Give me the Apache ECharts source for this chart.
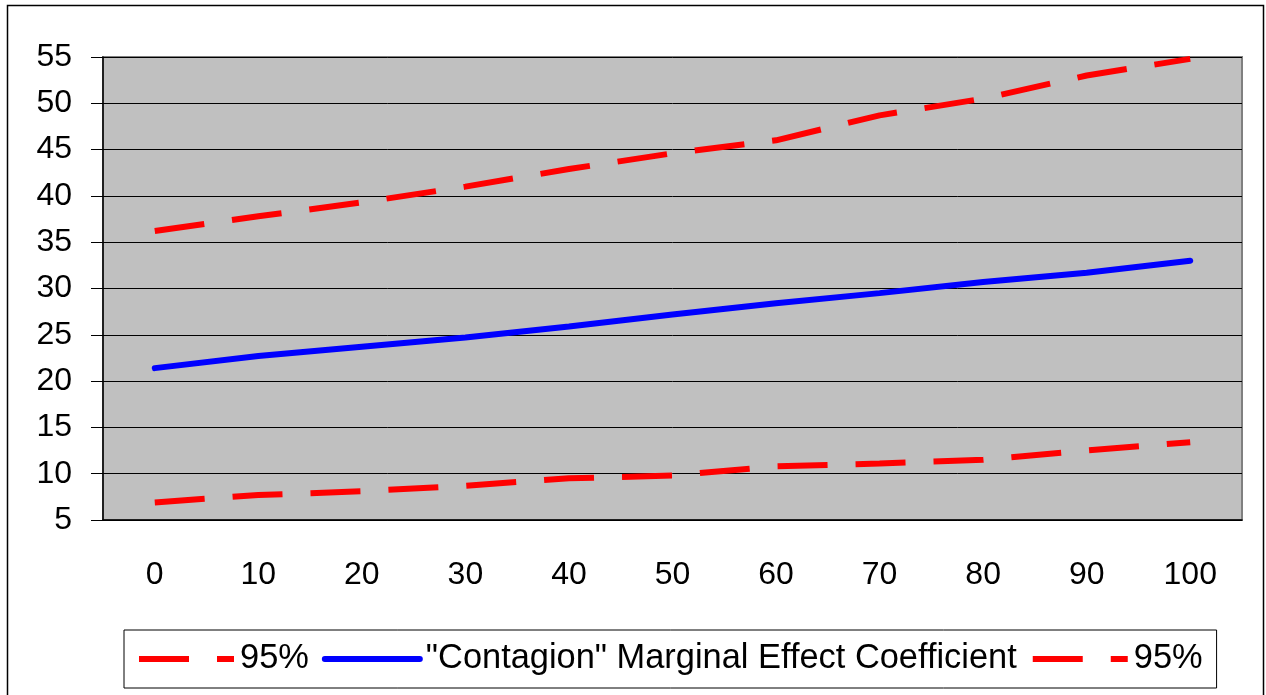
<!DOCTYPE html>
<html>
<head>
<meta charset="utf-8">
<script src="https://cdn.jsdelivr.net/npm/echarts@6/dist/echarts.min.js"></script>
<style>
  html, body { margin: 0; padding: 0; background: #fff; }
  #chart { width: 1266px; height: 695px; }
</style>
</head>
<body>
<div id="chart"></div>
<script>
const categories = ['0', '10', '20', '30', '40', '50', '60', '70', '80', '90', '100'];
const upper95 = [36.2, 37.8, 39.3, 41.0, 42.9, 44.6, 46.0, 48.7, 50.5, 53.0, 54.8];
const coefficient = [21.4, 22.7, 23.7, 24.7, 25.9, 27.2, 28.4, 29.5, 30.7, 31.7, 33.0];
const lower95 = [6.9, 7.7, 8.1, 8.7, 9.5, 9.8, 10.8, 11.1, 11.5, 12.5, 13.4];

// two series share the label "95%"; a zero-width space keeps the legend names distinct
const upperName = '95%';
const midName = '"Contagion" Marginal Effect Coefficient';
const lowerName = '95%\u200B';

const chartDom = document.getElementById('chart');
const myChart = echarts.init(chartDom);
const font = 'Liberation Sans, Arial, sans-serif';

const dashed = {
  color: '#ff0000',
  width: 6,
  type: [50, 28],
  cap: 'butt'
};

let option = {
  animation: false,
  backgroundColor: '#fff',
  textStyle: { fontFamily: font },
  graphic: [
    {
      type: 'rect',
      shape: { x: 7.5, y: 5.5, width: 1256, height: 720 },
      style: { fill: 'none', stroke: '#000', lineWidth: 1.5 },
      z: -1
    }
  ],
  grid: {
    left: 103,
    right: 24,
    top: 57,
    bottom: 175,
    show: true,
    backgroundColor: '#c0c0c0',
    borderColor: '#808080',
    borderWidth: 2
  },
  legend: {
    bottom: 7,
    left: 124,
    padding: [12, 14, 12, 12],
    itemGap: 13,
    itemWidth: 95,
    itemHeight: 12,
    borderColor: '#000',
    borderWidth: 1,
    itemStyle: { opacity: 0 },
    lineStyle: { width: 6 },
    textStyle: { fontSize: 34.4, color: '#000', fontFamily: font, padding: [0, 0, 0, 1] },
    data: [upperName, midName, lowerName]
  },
  xAxis: {
    type: 'category',
    data: categories,
    boundaryGap: true,
    axisLine: { lineStyle: { color: '#000', width: 1.5 } },
    axisTick: { length: 11, lineStyle: { color: '#000', width: 1 } },
    axisLabel: { fontSize: 32, color: '#000', margin: 39 },
    splitLine: { show: false }
  },
  yAxis: {
    type: 'value',
    min: 5,
    max: 55,
    interval: 5,
    axisLine: { show: true, lineStyle: { color: '#000', width: 1.5 } },
    axisTick: { show: true, length: 12, lineStyle: { color: '#000', width: 1 } },
    axisLabel: { fontSize: 32, color: '#000', margin: 31 },
    splitLine: { lineStyle: { color: '#000', width: 1 } }
  },
  series: [
    {
      name: upperName,
      type: 'line',
      data: upper95,
      symbol: 'none',
      lineStyle: dashed,
      itemStyle: { color: '#ff0000' }
    },
    {
      name: midName,
      type: 'line',
      data: coefficient,
      symbol: 'none',
      lineStyle: { color: '#0000ff', width: 6, cap: 'round' },
      itemStyle: { color: '#0000ff' }
    },
    {
      name: lowerName,
      type: 'line',
      data: lower95,
      symbol: 'none',
      lineStyle: dashed,
      itemStyle: { color: '#ff0000' }
    }
  ]
};

option && myChart.setOption(option);
</script>
</body>
</html>
